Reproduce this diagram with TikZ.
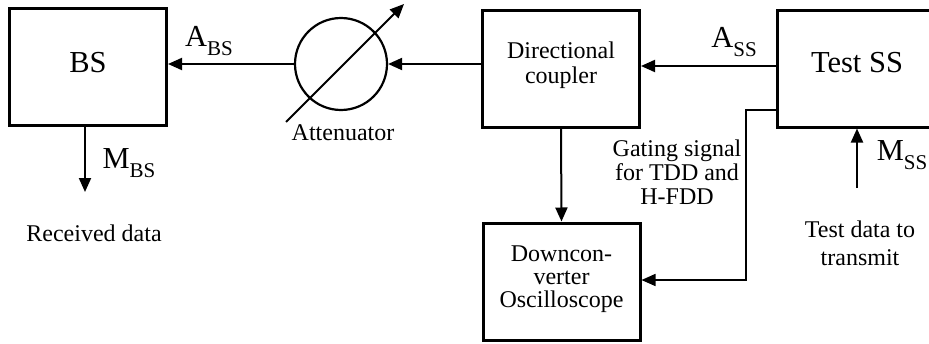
\documentclass[tikz,border=0pt]{standalone}
\usepackage{fontspec}
\setmainfont{Liberation Serif}
\usetikzlibrary{arrows.meta}
\newcommand\lsub[1]{\raisebox{-0.28em}{\fontsize{21}{21}\selectfont #1}}
\begin{document}
\begin{tikzpicture}[x=1pt,y=-1pt,
  blk/.style={draw,line width=3pt,inner sep=0pt,minimum width=157pt,minimum height=117pt},
  big/.style={font=\fontsize{30.5}{31}\selectfont},
  small/.style={font=\fontsize{24}{25}\selectfont,align=center,inner sep=0pt},
  arr/.style={line width=2pt,-{Triangle[length=14pt,width=12pt]}},
  thin/.style={line width=1.5pt}]
\useasboundingbox (0,0) rectangle (929,343);
\node[blk] (bs) at (88,67) {};
\node[big] (bslab) at (88,63) {BS};
\node[draw,circle,line width=2.2pt,minimum size=92pt,inner sep=0pt] (att) at (341,64) {};
\node[blk] (cp) at (561,69) {};
\node[small] (cplab) at (561,65) {Directional\\coupler};
\node[blk,minimum width=157pt] (ss) at (856,68.5) {};
\node[big] (sslab) at (857,63) {Test SS};
\node[blk] (dn) at (561.5,281.5) {};
\node[small,font=\fontsize{24}{23}\selectfont] (dnlab) at (561.5,279) {Downcon-\\verter\\Oscilloscope};
% labels
\node[big] (abs) at (209,41) {A\lsub{BS}};
\node[big] (ass) at (734,42) {A\lsub{SS}};
\node[big] (mbs) at (129,163) {M\lsub{BS}};
\node[big] (mss) at (902,155) {M\lsub{SS}};
\node[small] (attlab) at (343,133) {Attenuator};
\node[small] (rx) at (94,233) {Received data};
\node[small,font=\fontsize{24}{24}\selectfont] (gate) at (677,172) {Gating signal\\for TDD and\\H-FDD};
\node[small,font=\fontsize{24}{28}\selectfont] (td) at (860,243) {Test data to\\transmit};
% coordinates
\coordinate (mbsend) at (85,192);
\coordinate (mssstart) at (857,188);
\coordinate (ab) at (286,122);
\coordinate (ae) at (404,4);
\coordinate (g1) at (746,110);
\coordinate (g2) at (746,280);
% connectors
\draw[arr] (att.west) -- (att.west -| bs.east);
\draw[arr] (att.east -| cp.west) -- (att.east);
\draw[arr] (ss.west |- 0,66) -- (cp.east |- 0,66);
\draw[arr] (ab) -- (ae);
\draw[arr] (cp.south) -- (dn.north);
\draw[arr] (bs.south -| mbsend) -- (mbsend);
\draw[arr] (mssstart) -- (ss.south -| mssstart);
\draw[thin,-{Triangle[length=14pt,width=12pt]}] (ss.west |- g1) -- (g1) -- (g2) -- (dn.east |- g2);
\end{tikzpicture}
\end{document}
